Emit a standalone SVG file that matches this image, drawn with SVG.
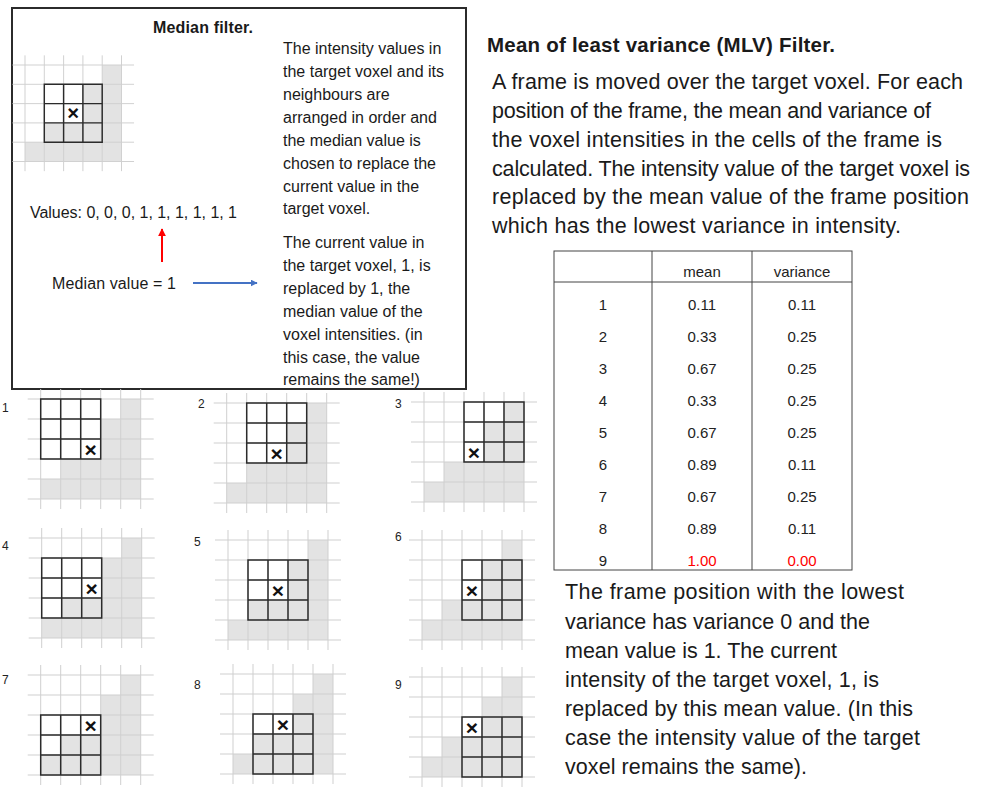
<svg xmlns="http://www.w3.org/2000/svg" xmlns:xlink="http://www.w3.org/1999/xlink" width="993" height="789" viewBox="0 0 993 789">
<style>
.t{font-family:"Liberation Sans",Arial,sans-serif;fill:#1a1a1a}
.box{font-size:16px}
.big{font-size:21.5px}
.tab{font-size:15px;text-anchor:middle;fill:#222}
.num{font-size:12px;fill:#222}
.lg{stroke:#cfcfcf;stroke-width:1;fill:none}
.sh{fill:#e3e3e3}
.fr{stroke:#2b2b2b;stroke-width:1.5;fill:none}
.xm{font-family:"Liberation Sans",Arial,sans-serif;font-size:21px;font-weight:bold;text-anchor:middle;fill:#111}
.red{fill:#ff0000}
</style>
<defs>
<g id="basegrid">
<rect class="sh" x="80" y="0" width="20" height="100"/>
<rect class="sh" x="60" y="20" width="20" height="80"/>
<rect class="sh" x="20" y="60" width="40" height="40"/>
<rect class="sh" x="0" y="80" width="20" height="20"/>
<path class="lg" d="M0,-10V110M20,-10V110M40,-10V110M60,-10V110M80,-10V110M100,-10V110M-13,0H113M-13,20H113M-13,40H113M-13,60H113M-13,80H113M-13,100H113"/>
</g>
<g id="frame">
<path class="fr" d="M0,0H60V60H0ZM20,0V60M40,0V60M0,20H60M0,40H60"/>
</g>
<marker id="ahr" viewBox="0 0 10 10" refX="9" refY="5" markerWidth="4" markerHeight="4" orient="auto"><path d="M0,0L10,5L0,10Z" fill="#ff0000"/></marker>
<marker id="ahb" viewBox="0 0 10 10" refX="9" refY="5" markerWidth="3.5" markerHeight="3.5" orient="auto"><path d="M0,0L10,5L0,10Z" fill="#4472c4"/></marker>
</defs>
<rect x="0" y="0" width="993" height="789" fill="#ffffff"/>

<g id="median-box">
<rect x="12" y="8" width="454" height="381" fill="none" stroke="#2b2b2b" stroke-width="2"/>
<text class="t" x="153" y="33" font-size="16px" font-weight="bold" textLength="100" lengthAdjust="spacing">Median filter.</text>
<g id="median-grid" transform="translate(25,65) scale(0.965)">
<use xlink:href="#basegrid" href="#basegrid"/>
<use xlink:href="#frame" href="#frame" x="20" y="20"/>
<text class="xm" x="50" y="57.5">×</text>
</g>
<text class="t box" x="283" y="53.5">The intensity values in</text>
<text class="t box" x="283" y="76.5">the target voxel and its</text>
<text class="t box" x="283" y="99.5">neighbours are</text>
<text class="t box" x="283" y="122.5">arranged in order and</text>
<text class="t box" x="283" y="145.5">the median value is</text>
<text class="t box" x="283" y="168.5">chosen to replace the</text>
<text class="t box" x="283" y="191.5">current value in the</text>
<text class="t box" x="283" y="213.5">target voxel.</text>
<text class="t box" x="283" y="247.5">The current value in</text>
<text class="t box" x="283" y="270.5">the target voxel, 1, is</text>
<text class="t box" x="283" y="293.5">replaced by 1, the</text>
<text class="t box" x="283" y="316.5">median value of the</text>
<text class="t box" x="283" y="339.5">voxel intensities. (in</text>
<text class="t box" x="283" y="362.5">this case, the value</text>
<text class="t box" x="283" y="384.5">remains the same!)</text>
<text class="t box" x="30" y="217.5" textLength="207" lengthAdjust="spacing">Values: 0, 0, 0, 1, 1, 1, 1, 1, 1</text>
<text class="t box" x="52" y="288.5" textLength="124" lengthAdjust="spacing">Median value = 1</text>
</g>

<g id="connectors">
<line x1="162" y1="262" x2="162" y2="229" stroke="#ff0000" stroke-width="2" marker-end="url(#ahr)"/>
<line x1="193" y1="283" x2="257" y2="283" stroke="#4472c4" stroke-width="2" marker-end="url(#ahb)"/>
</g>

<g id="pos1" transform="translate(40.7,399)">
<use xlink:href="#basegrid" href="#basegrid"/><use xlink:href="#frame" href="#frame" x="0" y="0"/>
<text class="xm" x="50" y="57.5">×</text>
</g>
<text class="t num" x="2" y="412">1</text>
<g id="pos2" transform="translate(226.7,403)">
<use xlink:href="#basegrid" href="#basegrid"/><use xlink:href="#frame" href="#frame" x="20" y="0"/>
<text class="xm" x="50" y="57.5">×</text>
</g>
<text class="t num" x="198" y="408">2</text>
<g id="pos3" transform="translate(424,402)">
<use xlink:href="#basegrid" href="#basegrid"/><use xlink:href="#frame" href="#frame" x="40" y="0"/>
<text class="xm" x="50" y="57.5">×</text>
</g>
<text class="t num" x="395" y="408">3</text>
<g id="pos4" transform="translate(41.7,538)">
<use xlink:href="#basegrid" href="#basegrid"/><use xlink:href="#frame" href="#frame" x="0" y="20"/>
<text class="xm" x="50" y="57.5">×</text>
</g>
<text class="t num" x="2" y="550">4</text>
<g id="pos5" transform="translate(228,540)">
<use xlink:href="#basegrid" href="#basegrid"/><use xlink:href="#frame" href="#frame" x="20" y="20"/>
<text class="xm" x="50" y="57.5">×</text>
</g>
<text class="t num" x="194" y="546">5</text>
<g id="pos6" transform="translate(422,540)">
<use xlink:href="#basegrid" href="#basegrid"/><use xlink:href="#frame" href="#frame" x="40" y="20"/>
<text class="xm" x="50" y="57.5">×</text>
</g>
<text class="t num" x="395" y="541">6</text>
<g id="pos7" transform="translate(40.7,675)">
<use xlink:href="#basegrid" href="#basegrid"/><use xlink:href="#frame" href="#frame" x="0" y="40"/>
<text class="xm" x="50" y="57.5">×</text>
</g>
<text class="t num" x="2" y="684">7</text>
<g id="pos8" transform="translate(233,674)">
<use xlink:href="#basegrid" href="#basegrid"/><use xlink:href="#frame" href="#frame" x="20" y="40"/>
<text class="xm" x="50" y="57.5">×</text>
</g>
<text class="t num" x="194" y="689">8</text>
<g id="pos9" transform="translate(422,677)">
<use xlink:href="#basegrid" href="#basegrid"/><use xlink:href="#frame" href="#frame" x="40" y="40"/>
<text class="xm" x="50" y="57.5">×</text>
</g>
<text class="t num" x="395" y="689">9</text>

<g id="mlv-text">
<text class="t" x="487" y="52" font-size="20.5px" font-weight="bold" textLength="348" lengthAdjust="spacing">Mean of least variance (MLV) Filter.</text>
<text class="t big" x="492" y="89" textLength="471" lengthAdjust="spacing">A frame is moved over the target voxel. For each</text>
<text class="t big" x="492" y="118" textLength="439" lengthAdjust="spacing">position of the frame, the mean and variance of</text>
<text class="t big" x="492" y="147" textLength="450" lengthAdjust="spacing">the voxel intensities in the cells of the frame is</text>
<text class="t big" x="492" y="176" textLength="478" lengthAdjust="spacing">calculated. The intensity value of the target voxel is</text>
<text class="t big" x="492" y="204" textLength="477" lengthAdjust="spacing">replaced by the mean value of the frame position</text>
<text class="t big" x="492" y="233" textLength="409" lengthAdjust="spacing">which has the lowest variance in intensity.</text>
</g>

<g id="mlv-table">
<rect x="554" y="251" width="298" height="319" fill="none" stroke="#444" stroke-width="1"/>
<path d="M554,282H852M652,251V570M752,251V570" stroke="#444" stroke-width="1" fill="none"/>
<text class="t tab" x="702" y="277">mean</text>
<text class="t tab" x="802" y="277">variance</text>
<text class="t tab" x="603" y="310">1</text><text class="t tab" x="702" y="310">0.11</text><text class="t tab" x="802" y="310">0.11</text>
<text class="t tab" x="603" y="342">2</text><text class="t tab" x="702" y="342">0.33</text><text class="t tab" x="802" y="342">0.25</text>
<text class="t tab" x="603" y="374">3</text><text class="t tab" x="702" y="374">0.67</text><text class="t tab" x="802" y="374">0.25</text>
<text class="t tab" x="603" y="406">4</text><text class="t tab" x="702" y="406">0.33</text><text class="t tab" x="802" y="406">0.25</text>
<text class="t tab" x="603" y="438">5</text><text class="t tab" x="702" y="438">0.67</text><text class="t tab" x="802" y="438">0.25</text>
<text class="t tab" x="603" y="470">6</text><text class="t tab" x="702" y="470">0.89</text><text class="t tab" x="802" y="470">0.11</text>
<text class="t tab" x="603" y="502">7</text><text class="t tab" x="702" y="502">0.67</text><text class="t tab" x="802" y="502">0.25</text>
<text class="t tab" x="603" y="534">8</text><text class="t tab" x="702" y="534">0.89</text><text class="t tab" x="802" y="534">0.11</text>
<text class="t tab" x="603" y="566">9</text><text class="t tab red" x="702" y="566">1.00</text><text class="t tab red" x="802" y="566">0.00</text>
</g>

<g id="mlv-result">
<text class="t big" x="565" y="599" textLength="339" lengthAdjust="spacing">The frame position with the lowest</text>
<text class="t big" x="565" y="629" textLength="305" lengthAdjust="spacing">variance has variance 0 and the</text>
<text class="t big" x="565" y="658">mean value is 1. The current</text>
<text class="t big" x="565" y="687" textLength="314" lengthAdjust="spacing">intensity of the target voxel, 1, is</text>
<text class="t big" x="565" y="716" textLength="348" lengthAdjust="spacing">replaced by this mean value. (In this</text>
<text class="t big" x="565" y="745" textLength="355" lengthAdjust="spacing">case the intensity value of the target</text>
<text class="t big" x="565" y="774" textLength="242" lengthAdjust="spacing">voxel remains the same).</text>
</g>
</svg>
